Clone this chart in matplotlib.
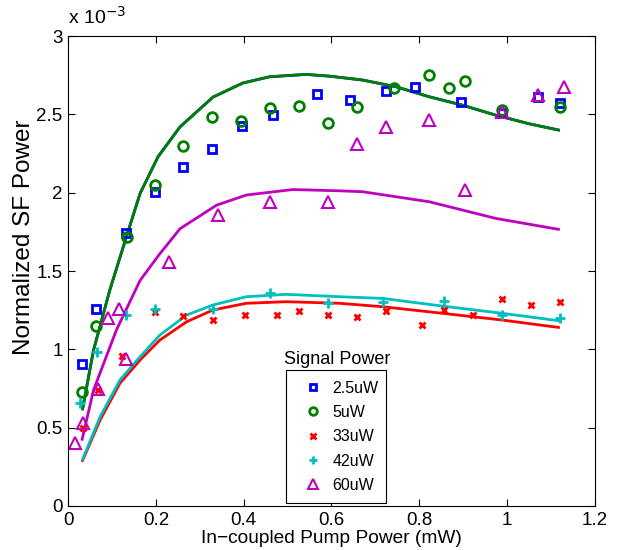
import matplotlib.pyplot as plt
from matplotlib.lines import Line2D
import numpy as np

plt.rcParams['font.family'] = ['Liberation Sans', 'DejaVu Sans']

# measured points (y in units of 1e-3)
x_25 = [0.031, 0.064, 0.131, 0.197, 0.262, 0.328, 0.397, 0.467, 0.566, 0.642, 0.725, 0.791, 0.896, 0.988, 1.071, 1.12]
y_25 = [0.906, 1.255, 1.744, 2.004, 2.163, 2.28, 2.425, 2.497, 2.631, 2.589, 2.65, 2.674, 2.576, 2.51, 2.61, 2.57]

x_5 = [0.031, 0.064, 0.134, 0.197, 0.262, 0.328, 0.394, 0.46, 0.526, 0.592, 0.659, 0.742, 0.823, 0.867, 0.905, 0.988, 1.12]
y_5 = [0.728, 1.151, 1.717, 2.05, 2.30, 2.484, 2.459, 2.538, 2.553, 2.442, 2.55, 2.667, 2.752, 2.67, 2.714, 2.53, 2.55]

x_33 = [0.033, 0.067, 0.123, 0.198, 0.262, 0.329, 0.404, 0.477, 0.527, 0.592, 0.659, 0.725, 0.807, 0.857, 0.922, 0.988, 1.055, 1.12]
y_33 = [0.496, 0.74, 0.957, 1.24, 1.214, 1.185, 1.219, 1.217, 1.242, 1.219, 1.208, 1.244, 1.153, 1.251, 1.217, 1.323, 1.281, 1.302]

x_42 = [0.027, 0.065, 0.131, 0.198, 0.329, 0.461, 0.592, 0.718, 0.857, 0.988, 1.12]
y_42 = [0.66, 0.98, 1.217, 1.255, 1.255, 1.357, 1.293, 1.304, 1.31, 1.219, 1.20]

x_60 = [0.016, 0.033, 0.067, 0.09, 0.117, 0.131, 0.23, 0.342, 0.46, 0.592, 0.659, 0.725, 0.823, 0.905, 0.988, 1.071, 1.13]
y_60 = [0.40, 0.528, 0.747, 1.198, 1.255, 0.936, 1.56, 1.857, 1.94, 1.94, 2.308, 2.42, 2.463, 2.015, 2.514, 2.625, 2.676]

# model curves
fx_hi = [0.033, 0.058, 0.095, 0.133, 0.164, 0.205, 0.255, 0.33, 0.398, 0.459, 0.542, 0.595, 0.671, 0.747, 0.823, 0.898, 0.974, 1.05, 1.117]
fy_hi = [0.62, 0.995, 1.378, 1.72, 1.995, 2.23, 2.42, 2.61, 2.70, 2.74, 2.755, 2.744, 2.719, 2.676, 2.612, 2.559, 2.495, 2.44, 2.40]

fx_60 = [0.032, 0.058, 0.11, 0.164, 0.209, 0.255, 0.338, 0.406, 0.512, 0.618, 0.671, 0.823, 0.974, 1.117]
fy_60 = [0.426, 0.74, 1.123, 1.44, 1.61, 1.77, 1.92, 1.985, 2.02, 2.012, 2.006, 1.942, 1.836, 1.766]

fx_lo = [0.033, 0.073, 0.118, 0.164, 0.209, 0.27, 0.33, 0.406, 0.497, 0.618, 0.717, 0.853, 0.989, 1.117]
fy_42 = [0.298, 0.57, 0.804, 0.953, 1.091, 1.219, 1.283, 1.336, 1.351, 1.336, 1.325, 1.276, 1.23, 1.183]
fy_33 = [0.29, 0.549, 0.783, 0.932, 1.059, 1.176, 1.251, 1.294, 1.304, 1.294, 1.272, 1.23, 1.187, 1.14]

labels = ['2.5uW', '5uW', '33uW', '42uW', '60uW']

fig = plt.figure(figsize=(6.19, 5.5), dpi=100)
ax = fig.add_axes([0.11, 0.08, 0.851, 0.8545])

green = (0, 0.5, 0)
ax.plot(fx_hi, fy_hi, color='b', linewidth=2)
ax.plot(fx_hi, fy_hi, color=green, linewidth=2)
ax.plot(fx_lo, fy_33, color='r', linewidth=2)
ax.plot(fx_lo, fy_42, color=(0, 0.75, 0.75), linewidth=2)
ax.plot(fx_60, fy_60, color=(0.75, 0, 0.75), linewidth=2)

ax.plot(x_25, y_25, 's', mfc='none', mec='b', mew=2, ms=6)
ax.plot(x_5, y_5, 'o', mfc='none', mec=green, mew=2, ms=7)
ax.plot(x_33, y_33, 'x', color='r', mew=2, ms=5)
ax.plot(x_42, y_42, '+', color='c', mew=2, ms=7)
ax.plot(x_60, y_60, '^', mfc='none', mec='m', mew=1.5, ms=9)

# smaller markers in the legend, like the original
handles = [
    Line2D([], [], ls='none', marker='s', mfc='none', mec='b', mew=2, ms=5),
    Line2D([], [], ls='none', marker='o', mfc='none', mec=green, mew=2, ms=5.5),
    Line2D([], [], ls='none', marker='x', color='r', mew=2, ms=4),
    Line2D([], [], ls='none', marker='+', color='c', mew=2, ms=5.5),
    Line2D([], [], ls='none', marker='^', mfc='none', mec='m', mew=1.5, ms=7.5),
]

ax.set_xlim(0, 1.2)
ax.set_ylim(0, 3)
ax.set_xticks(np.arange(0, 1.21, 0.2))
ax.set_xticklabels(['0', '0.2', '0.4', '0.6', '0.8', '1', '1.2'])
ax.set_yticks(np.arange(0, 3.01, 0.5))
ax.set_yticklabels(['0', '0.5', '1', '1.5', '2', '2.5', '3'])
ax.tick_params(direction='in', top=True, right=True, labelsize=13.5, length=5, pad=4)
ax.set_xlabel('In\u2212coupled Pump Power (mW)', fontsize=13.8, labelpad=1)
# y label sits a bit above the axis centre in the original
ax.text(-0.084, 0.571, 'Normalized SF Power', transform=ax.transAxes, fontsize=17.5,
        rotation=90, ha='center', va='center')
ax.text(0.0, 1.025, r'x 10$^{-3}$', transform=ax.transAxes, fontsize=14, va='baseline', ha='left')

leg = ax.legend(handles=handles, labels=labels, loc='lower left',
                bbox_to_anchor=(0.414, 0.006, 0.19, 0.281), mode='expand',
                fancybox=False, edgecolor='k', framealpha=1, fontsize=11.5,
                borderaxespad=0, borderpad=0.65, handlelength=2.0,
                handletextpad=0.25, labelspacing=0.58)
leg.get_frame().set_linewidth(0.8)
ax.text(0.511, 0.303, 'Signal Power', transform=ax.transAxes, fontsize=13, ha='center', va='baseline')

fig.savefig('out.png', dpi=100)
